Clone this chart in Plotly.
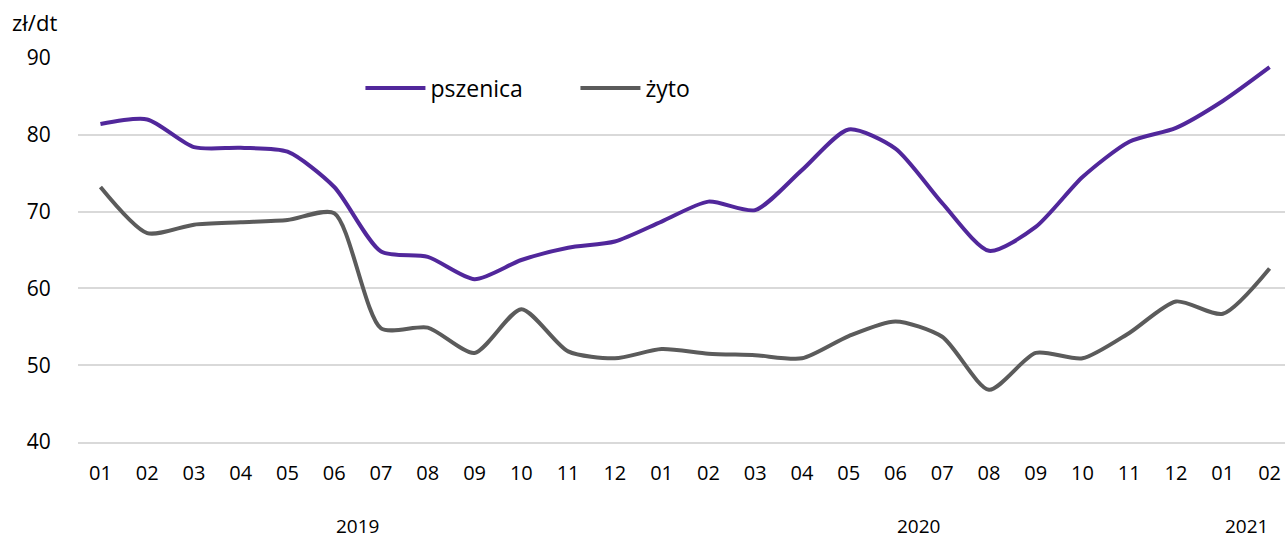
import plotly.graph_objects as go

months = ["01", "02", "03", "04", "05", "06", "07", "08", "09", "10", "11", "12",
          "01", "02", "03", "04", "05", "06", "07", "08", "09", "10", "11", "12",
          "01", "02"]
years = ["2019", "2020", "2021"]
year_month_counts = [12, 12, 2]

pszenica = [81.4, 82.0, 78.4, 78.3, 77.8, 73.2, 64.8, 64.1, 61.2, 63.7, 65.3, 66.1,
            68.7, 71.3, 70.2, 75.4, 80.7, 78.2, 71.1, 64.9, 68.0, 74.5, 79.1, 80.9,
            84.4, 88.8]
zyto = [73.2, 67.2, 68.3, 68.6, 68.9, 69.8, 54.8, 54.9, 51.6, 57.3, 51.8, 50.9,
        52.1, 51.5, 51.3, 50.9, 53.8, 55.7, 53.7, 46.8, 51.6, 50.9, 54.2, 58.3,
        56.7, 62.6]

x = list(range(len(months)))
font_family = "Open Sans, Noto Sans, sans-serif"
grid_color = "#D9D9D9"

fig = go.Figure()
fig.add_trace(go.Scatter(x=x, y=pszenica, name="pszenica", mode="lines",
                         line=dict(color="#51279B", width=4, shape="spline", smoothing=0.7)))
fig.add_trace(go.Scatter(x=x, y=zyto, name="żyto", mode="lines",
                         line=dict(color="#5B5B5B", width=4, shape="spline", smoothing=0.7)))

# year labels centered under their months
start = 0
for yr, n in zip(years, year_month_counts):
    fig.add_annotation(x=start + (n - 1) / 2, y=-0.219, xref="x", yref="paper",
                       text=yr, showarrow=False, yanchor="middle",
                       font=dict(size=19, color="#000000", family=font_family))
    start += n

fig.add_annotation(x=-0.056, y=1.094, xref="paper", yref="paper", text="zł/dt",
                   showarrow=False, xanchor="left", yanchor="middle",
                   font=dict(size=22, color="#000000", family=font_family))

fig.update_layout(
    width=1285, height=538,
    margin=dict(l=78, r=0, t=58, b=96),
    paper_bgcolor="white", plot_bgcolor="white",
    font=dict(family=font_family, size=20, color="#000000"),
    showlegend=True,
    legend=dict(orientation="h", x=0.234, y=0.922, xanchor="left", yanchor="middle",
                font=dict(size=23, color="#000000", family=font_family),
                itemwidth=60, entrywidth=140, entrywidthmode="pixels",
                tracegroupgap=0, bgcolor="rgba(0,0,0,0)"),
    xaxis=dict(range=[-0.48, 25.33], tickmode="array", tickvals=x, ticktext=months,
               showgrid=False, zeroline=False, showline=True, linecolor=grid_color,
               linewidth=1.5, ticks="outside", ticklen=12, tickcolor="rgba(0,0,0,0)",
               tickfont=dict(size=20)),
    yaxis=dict(range=[40, 90], tickmode="array", tickvals=[40, 50, 60, 70, 80, 90],
               showgrid=True, gridcolor=grid_color, gridwidth=1.5, zeroline=False,
               showline=False, ticks="outside", ticklen=22, tickcolor="rgba(0,0,0,0)",
               tickfont=dict(size=21)),
)

fig.write_html("out.html", config={"displayModeBar": False},
               post_script="document.body.style.margin='0';")
